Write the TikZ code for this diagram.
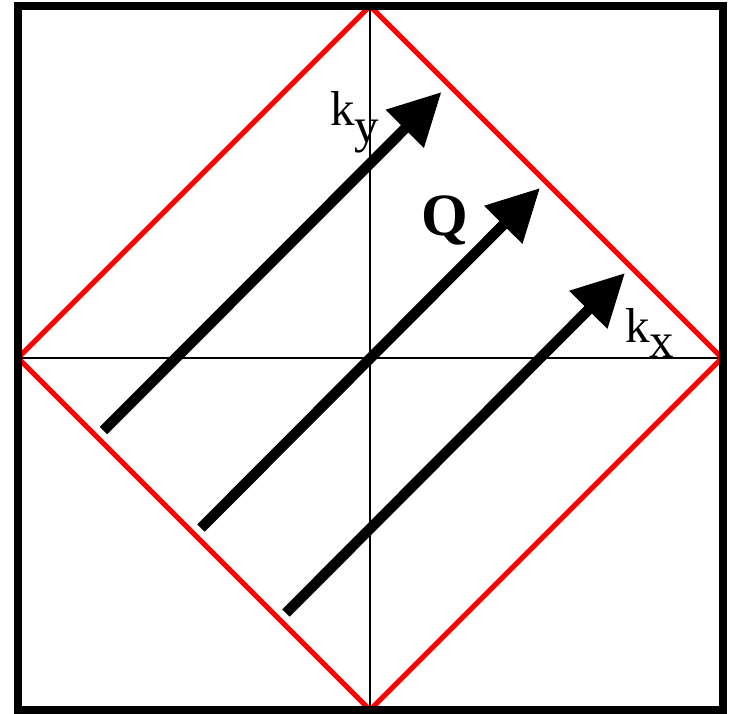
\documentclass[tikz,border=0pt]{standalone}
\usepackage{fontspec}
\setmainfont{Liberation Serif}
\usetikzlibrary{arrows.meta}
\tikzset{
  frame/.style={line width=8pt, draw=black},
  bz/.style={line width=5pt, draw=red, line join=miter},
  axis/.style={line width=1.5pt, draw=black},
  qarrow/.style={line width=10.5pt, line cap=butt, -{Triangle[length=52pt,width=51pt]}},
  lab/.style={anchor=base west, inner sep=0pt, font=\fontsize{49pt}{51pt}\selectfont}
}
\begin{document}
\begin{tikzpicture}[x=1pt,y=-1pt]
\useasboundingbox (0,0) rectangle (730,713);
\fill[white] (0,0) rectangle (730,713);
% diamond vertices
\coordinate (T) at (370,6);
\coordinate (B) at (370,710);
\coordinate (L) at (18,358);
\coordinate (R) at (722,358);
% axes
\draw[axis] (T) -- (B);
\draw[axis] (L) -- (R);
% Brillouin zone
\draw[bz] (T) -- (R) -- (B) -- (L) -- cycle;
% frame
\draw[frame] (18,6) rectangle (722.5,710);
% arrows
\coordinate (a1s) at (103.5,430.5);
\coordinate (a1e) at (441.5,92);
\coordinate (a2s) at (201,528);
\coordinate (a2e) at (540,188);
\coordinate (a3s) at (286,613);
\coordinate (a3e) at (625,273);
\draw[qarrow] (a1s) -- (a1e);
\draw[qarrow] (a2s) -- (a2e);
\draw[qarrow] (a3s) -- (a3e);
% labels
\node[lab] (ky) at (330,125) {k\raisebox{-17pt}{y}};
\node[lab] (q) at (421,235) {\fontsize{60pt}{62pt}\selectfont\bfseries Q};
\node[lab] (kx) at (625,342) {k\raisebox{-15pt}{x}};
\end{tikzpicture}
\end{document}
